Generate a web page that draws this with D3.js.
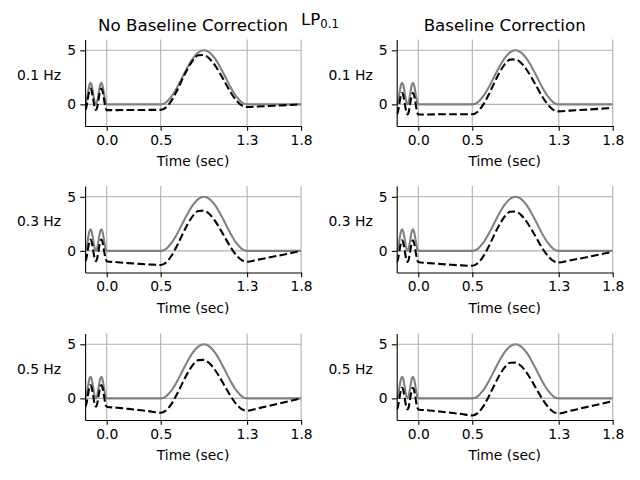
<!DOCTYPE html>
<html>
<head>
<meta charset="utf-8">
<script src="https://cdn.jsdelivr.net/npm/d3@7"></script>
<style>
  html, body { margin: 0; padding: 0; background: #fff; }
  svg { display: block; font-family: "DejaVu Sans", sans-serif; }
</style>
</head>
<body>
<svg id="chart" width="640" height="480"></svg>
<script>
// ---------------- data ----------------
const times = [-0.2,-0.19,-0.18,-0.17,-0.16,-0.15,-0.14,-0.13,-0.12,-0.11,-0.1,
  -0.09,-0.08,-0.07,-0.06,-0.05,-0.04,-0.03,-0.02,-0.01,0,
  0.1,0.2,0.3,0.4,0.5,
  0.55,0.6,0.65,0.7,0.75,0.8,0.85,0.9,0.95,1.0,1.05,1.1,1.15,1.2,1.25,1.3,
  1.4,1.5,1.6,1.7,1.8];

const signal = [0,0.19,0.69,1.31,1.81,2,1.81,1.31,0.69,0.19,0,
  0.19,0.69,1.31,1.81,2,1.81,1.31,0.69,0.19,0,
  0,0,0,0,0,
  0.19,0.73,1.54,2.5,3.46,4.27,4.81,5,4.81,4.27,3.46,2.5,1.54,0.73,0.19,0,
  0,0,0,0,0];

const hp01NoBaseline = [-0.53,-0.34,0.16,0.78,1.28,1.47,1.28,0.78,0.16,-0.34,-0.53,
  -0.34,0.16,0.78,1.28,1.47,1.28,0.78,0.16,-0.34,-0.53,
  -0.53,-0.52,-0.52,-0.51,-0.51,
  -0.28,0.35,1.26,2.31,3.31,4.10,4.54,4.56,4.25,3.65,2.85,1.95,1.08,0.37,-0.10,-0.25,
  -0.2,-0.15,-0.1,-0.05,0.0];

const hp01Baseline = [-0.93,-0.74,-0.24,0.38,0.88,1.07,0.88,0.38,-0.24,-0.74,-0.93,
  -0.74,-0.24,0.38,0.88,1.07,0.88,0.38,-0.24,-0.74,-0.93,
  -0.93,-0.92,-0.92,-0.91,-0.91,
  -0.68,-0.05,0.86,1.91,2.91,3.70,4.14,4.16,3.85,3.25,2.45,1.55,0.68,-0.03,-0.50,-0.65,
  -0.58,-0.52,-0.46,-0.39,-0.32];

const hp03NoBaseline = [-0.95,-0.76,-0.26,0.36,0.86,1.05,0.86,0.36,-0.26,-0.76,-0.95,
  -0.76,-0.26,0.36,0.86,1.05,0.86,0.36,-0.26,-0.76,-0.95,
  -1.05,-1.13,-1.2,-1.26,-1.3,
  -1.07,-0.45,0.45,1.49,2.48,3.26,3.69,3.72,3.41,2.82,2.03,1.15,0.30,-0.39,-0.85,-1.0,
  -0.81,-0.62,-0.42,-0.21,0.0];

const hp03Baseline = [-1.03,-0.84,-0.34,0.28,0.78,0.97,0.78,0.28,-0.34,-0.84,-1.03,
  -0.84,-0.34,0.28,0.78,0.97,0.78,0.28,-0.34,-0.84,-1.03,
  -1.13,-1.21,-1.28,-1.34,-1.38,
  -1.15,-0.53,0.37,1.41,2.40,3.18,3.61,3.64,3.33,2.74,1.95,1.07,0.22,-0.47,-0.93,-1.08,
  -0.89,-0.70,-0.50,-0.29,-0.08];

const hp05NoBaseline = [-0.77,-0.58,-0.08,0.54,1.04,1.23,1.04,0.54,-0.08,-0.58,-0.77,
  -0.58,-0.08,0.54,1.04,1.23,1.04,0.54,-0.08,-0.58,-0.77,
  -0.87,-0.97,-1.08,-1.2,-1.33,
  -1.11,-0.51,0.38,1.39,2.36,3.12,3.54,3.56,3.26,2.67,1.89,1.01,0.17,-0.53,-0.99,-1.14,
  -0.92,-0.69,-0.46,-0.23,0.0];

const hp05Baseline = [-1.02,-0.83,-0.33,0.29,0.79,0.98,0.79,0.29,-0.33,-0.83,-1.02,
  -0.83,-0.33,0.29,0.79,0.98,0.79,0.29,-0.33,-0.83,-1.02,
  -1.12,-1.22,-1.33,-1.45,-1.58,
  -1.36,-0.76,0.13,1.14,2.11,2.87,3.29,3.31,3.01,2.42,1.64,0.76,-0.08,-0.78,-1.24,-1.39,
  -1.17,-0.94,-0.71,-0.48,-0.25];

const rowLabels = ["0.1 Hz", "0.3 Hz", "0.5 Hz"];
const colTitles = ["No Baseline Correction", "Baseline Correction"];
const filtered = [
  [hp01NoBaseline, hp01Baseline],
  [hp03NoBaseline, hp03Baseline],
  [hp05NoBaseline, hp05Baseline]
];
const xTicks = [0, 0.5, 1.3, 1.8];
const xTickLabels = ["0.0", "0.5", "1.3", "1.8"];
const yTicks = [0, 5];
const xDomain = [-0.2, 1.8];
const yDomain = [-2, 6];
const xLabel = "Time (sec)";

// ---------------- layout ----------------
const svg = d3.select("#chart");
const colLeft = [85.1, 396.7];
const axW = 216;
const rowTop = [39.5, 186, 333.5];
const axH = 86.5;
const fs = 13.89;
const gridColor = "#b0b0b0";

// suptitle
const sup = svg.append("text")
  .attr("x", 320).attr("y", 25)
  .attr("text-anchor", "middle")
  .attr("font-size", 16.67)
  .attr("fill", "#000");
sup.append("tspan").text("LP");
sup.append("tspan").attr("font-size", 11.7).attr("dy", 2.5).text("0.1");

const lineGen = (x, y) => d3.line()
  .x((d, i) => x(times[i]))
  .y(d => y(d))
  .curve(d3.curveMonotoneX);

rowTop.forEach((top, ri) => {
  colLeft.forEach((left, ci) => {
    const x = d3.scaleLinear().domain(xDomain).range([left, left + axW]);
    const y = d3.scaleLinear().domain(yDomain).range([top + axH, top]);
    const g = svg.append("g");
    const clipId = `clip-${ri}-${ci}`;
    svg.append("clipPath").attr("id", clipId)
      .append("rect").attr("x", left).attr("y", top).attr("width", axW).attr("height", axH);

    // grid
    g.append("g").selectAll("line").data(xTicks).join("line")
      .attr("x1", d => x(d)).attr("x2", d => x(d))
      .attr("y1", top).attr("y2", top + axH)
      .attr("stroke", gridColor).attr("stroke-width", 1.1);
    g.append("g").selectAll("line").data(yTicks).join("line")
      .attr("y1", d => y(d)).attr("y2", d => y(d))
      .attr("x1", left).attr("x2", left + axW)
      .attr("stroke", gridColor).attr("stroke-width", 1.1);

    // lines
    const lg = g.append("g").attr("clip-path", `url(#${clipId})`);
    lg.append("path").datum(signal)
      .attr("d", lineGen(x, y))
      .attr("fill", "none").attr("stroke", "#808080").attr("stroke-width", 2.08);
    lg.append("path").datum(filtered[ri][ci])
      .attr("d", lineGen(x, y))
      .attr("fill", "none").attr("stroke", "#000").attr("stroke-width", 2.08)
      .attr("stroke-dasharray", "7.7,3.3");

    // axes
    const xAxis = d3.axisBottom(x).tickValues(xTicks)
      .tickFormat((d, i) => xTickLabels[i]).tickSize(4.86).tickPadding(4.2).tickSizeOuter(0);
    const gx = g.append("g").attr("transform", `translate(0,${top + axH})`).call(xAxis);
    const yAxis = d3.axisLeft(y).tickValues(yTicks)
      .tickFormat(d3.format("d")).tickSize(4.86).tickPadding(4.2).tickSizeOuter(0);
    const gy = g.append("g").attr("transform", `translate(${left},0)`).call(yAxis);
    [gx, gy].forEach(a => {
      a.select(".domain").attr("stroke", "#000").attr("stroke-width", 1.1);
      a.selectAll(".tick line").attr("stroke", "#000").attr("stroke-width", 1.1);
      a.selectAll(".tick text").attr("font-size", fs).attr("fill", "#000")
        .attr("font-family", "DejaVu Sans");
    });

    // x label
    g.append("text")
      .attr("x", left + axW / 2).attr("y", top + axH + 40)
      .attr("text-anchor", "middle").attr("font-size", fs).attr("fill", "#000")
      .text(xLabel);

    // y label (horizontal)
    g.append("text")
      .attr("x", left - 24).attr("y", top + axH / 2 - 3)
      .attr("text-anchor", "end").attr("font-size", fs).attr("fill", "#000")
      .text(rowLabels[ri]);

    // title
    if (ri === 0) {
      g.append("text")
        .attr("x", left + axW / 2).attr("y", top - 8.8)
        .attr("text-anchor", "middle").attr("font-size", 16.67).attr("fill", "#000")
        .text(colTitles[ci]);
    }
  });
});
</script>
</body>
</html>
